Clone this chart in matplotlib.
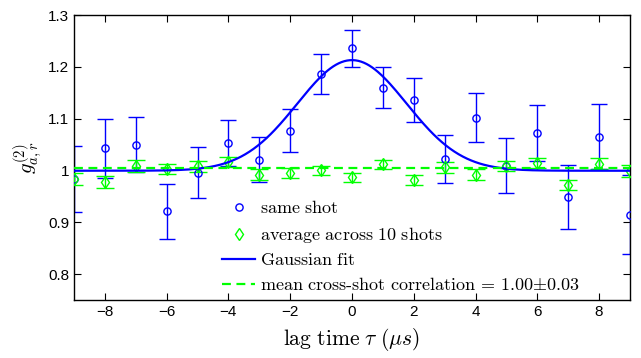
import numpy as np
import matplotlib
matplotlib.use("Agg")
import matplotlib.pyplot as plt

plt.rcParams['mathtext.fontset'] = 'cm'
plt.rcParams['font.family'] = ['Liberation Sans', 'DejaVu Sans']

# lag times (us)
lag = np.arange(-9, 10)

# same shot g2 and error half-widths
same_shot = [0.984, 1.043, 1.050, 0.921, 0.996, 1.053, 1.021, 1.077, 1.186, 1.236,
             1.160, 1.136, 1.022, 1.102, 1.009, 1.073, 0.949, 1.065, 0.915]
same_err = [0.064, 0.057, 0.053, 0.053, 0.050, 0.045, 0.044, 0.042, 0.039, 0.036,
            0.039, 0.042, 0.046, 0.047, 0.053, 0.054, 0.062, 0.063, 0.077]

# average across 10 shots
avg_shots = [0.983, 0.978, 1.009, 1.003, 1.008, 1.016, 0.992, 0.995, 1.000, 0.987,
             1.012, 0.982, 1.006, 0.992, 1.009, 1.015, 0.972, 1.013, 0.999]
avg_err = [0.012, 0.011, 0.011, 0.010, 0.010, 0.010, 0.010, 0.010, 0.009, 0.009,
           0.009, 0.010, 0.010, 0.010, 0.010, 0.010, 0.010, 0.011, 0.012]

# gaussian fit parameters (offset, amplitude, centre, sigma)
fit_offset = 0.9995
fit_amp = 0.2135
fit_mu = 0.0
fit_sigma = 1.77

mean_cross = 1.004

fig = plt.figure(figsize=(6.41, 3.58), dpi=100)
ax = fig.add_axes([0.1154, 0.162, 0.8674, 0.796])

blue = (0, 0, 1)
green = (0, 1, 0)

ax.errorbar(lag, same_shot, yerr=same_err, fmt='none', ecolor=blue,
            elinewidth=1.0, capsize=5.8, capthick=1.0, zorder=2)
ax.errorbar(lag, avg_shots, yerr=avg_err, fmt='none', ecolor=green,
            elinewidth=1.0, capsize=6.2, capthick=1.0, zorder=3)

ax.plot(lag, same_shot, 'o', mfc='none', mec=blue, ms=5.2, mew=1.0,
        label=r'$\mathrm{same\ shot}$', zorder=4)
ax.plot(lag, avg_shots, 'd', mfc='none', mec=green, ms=6, mew=1.0,
        label=r'$\mathrm{average\ across\ 10\ shots}$', zorder=4)

t = np.linspace(-9, 9, 400)
fit = fit_offset + fit_amp * np.exp(-(t - fit_mu) ** 2 / (2 * fit_sigma ** 2))
ax.plot(t, fit, '-', color=blue, lw=1.6, label=r'$\mathrm{Gaussian\ fit}$', zorder=5)
ax.axhline(mean_cross, color=green, ls=(0, (4, 2.5)), lw=1.6,
           label=r'$\mathrm{mean\ cross\text{-}shot\ correlation}\,=\,1.00{\pm}0.03$', zorder=5)

ax.set_xlim(-9, 9)
ax.set_ylim(0.75, 1.3)
ax.set_xticks([-8, -6, -4, -2, 0, 2, 4, 6, 8])
ax.set_xticklabels(['\u22128', '\u22126', '\u22124', '\u22122', '0', '2', '4', '6', '8'])
ax.set_yticks([0.8, 0.9, 1.0, 1.1, 1.2, 1.3])
ax.set_yticklabels(['0.8', '0.9', '1', '1.1', '1.2', '1.3'])
ax.tick_params(direction='in', top=True, right=True, labelsize=11, length=5, width=0.8)
for s in ax.spines.values():
    s.set_linewidth(1.0)

ax.set_xlabel(r'$\mathrm{lag\ time}\ \tau\ (\mu s)$', fontsize=15.5, labelpad=5)
ax.set_ylabel(r'$g^{(2)}_{a,r}$', fontsize=15, labelpad=2)

ax.legend(loc='upper left', bbox_to_anchor=(0.237, 0.407), frameon=False,
          fontsize=13, handlelength=1.85, labelspacing=0.42, handletextpad=0.28)

fig.savefig('out.png', dpi=100)
